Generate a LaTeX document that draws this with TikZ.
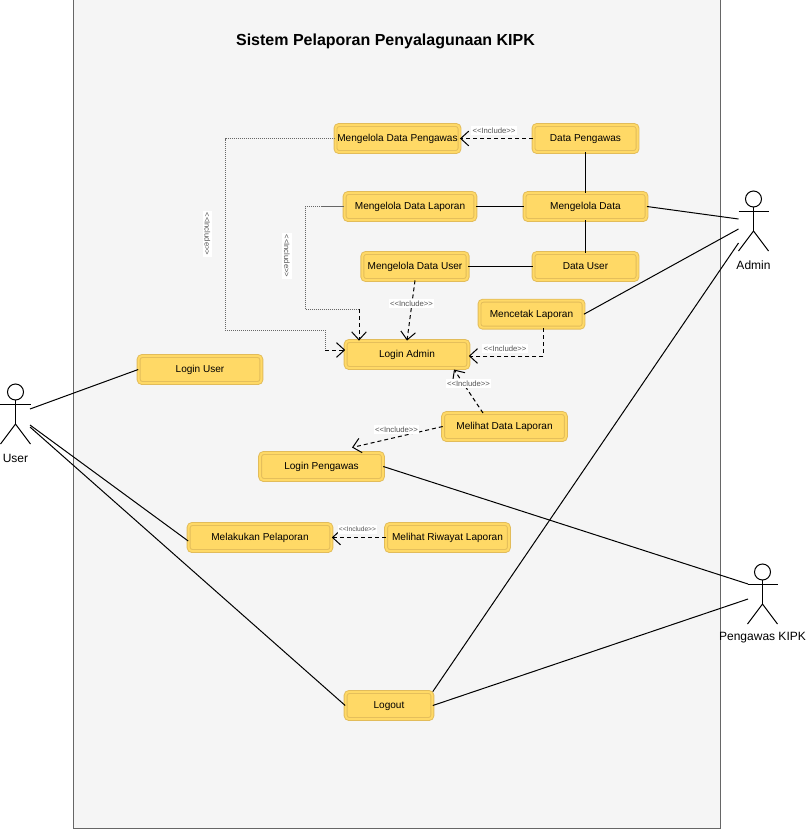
\documentclass[tikz,border=0pt]{standalone}
\usepackage{fontspec}
\setmainfont{Liberation Sans}
\usetikzlibrary{arrows.meta}
\definecolor{sysfill}{HTML}{F5F5F5}
\definecolor{sysline}{HTML}{666666}
\definecolor{casefill}{HTML}{FFD966}
\definecolor{caseline}{HTML}{E2BC5A}
\definecolor{inclab}{HTML}{555555}
\newcommand{\inctext}{<{}<Include>{}>}
\tikzset{
    usecase/.style={draw=caseline,fill=casefill,double=casefill,double distance=1.5pt,line width=0.7pt,
        rounded corners=2.5pt,minimum height=20.2pt,inner sep=0pt,text height=6.5pt,text depth=1.3pt,
        font=\fontsize{7.55}{9}\selectfont},
    assoc/.style={line width=0.75pt},
    incl/.style={line width=0.75pt,dash pattern=on 3pt off 2.25pt,-{Straight Barb[length=6pt,width=11pt,line width=0.75pt]}},
    dotline/.style={line width=0.75pt,sysline,dash pattern=on 0.75pt off 0.75pt},
    inclabel/.style={fill=white,text=inclab,inner xsep=0.8pt,inner ysep=1.4pt,font=\fontsize{5.8}{6}\selectfont},
    stick/.style={line width=0.75pt},
    actorlabel/.style={font=\fontsize{9}{11}\selectfont},
}
\begin{document}
\begin{tikzpicture}[x=0.75pt,y=-0.75pt]
    \useasboundingbox (0,0) rectangle (807,829);
    \draw[sysline,fill=sysfill,line width=0.75pt] (73.5,-1) rectangle (720.5,828);
    \node[font=\bfseries\fontsize{12}{14}\selectfont] (title) at (385.5,41) {Sistem Pelaporan Penyalagunaan KIPK};

    % use cases
    \node[usecase,minimum width=93pt] (mgPengawas) at (397.5,138.5) {Mengelola Data Pengawas};
    \node[usecase,minimum width=78pt] (dataPengawas) at (585.5,138.5) {Data Pengawas};
    \node[usecase,minimum width=98pt] (mgLaporan) at (410,206.5) {Mengelola Data Laporan};
    \node[usecase,minimum width=91.5pt] (mgData) at (585.5,206.5) {Mengelola Data};
    \node[usecase,minimum width=79pt] (mgUser) at (415,266.5) {Mengelola Data User};
    \node[usecase,minimum width=78pt] (dataUser) at (585.5,266.5) {Data User};
    \node[usecase,minimum width=78pt] (cetak) at (531.5,314.2) {Mencetak Laporan};
    \node[usecase,minimum width=92pt] (loginAdmin) at (407,354.5) {Login Admin};
    \node[usecase,minimum width=92pt] (loginUser) at (200,369.5) {Login User};
    \node[usecase,minimum width=92pt] (lihatLaporan) at (504.5,426.5) {Melihat Data Laporan};
    \node[usecase,minimum width=92pt] (loginPengawas) at (321.5,466.5) {Login Pengawas};
    \node[usecase,minimum width=107pt] (pelaporan) at (260,537.5) {Melakukan Pelaporan};
    \node[usecase,minimum width=92pt] (riwayat) at (447.5,537.5) {Melihat Riwayat Laporan};
    \node[usecase,minimum width=65pt] (logout) at (389,705.5) {Logout};

    % actors
    \foreach \nm/\xx/\yy/\lab in {user/15.5/392/User,admin/753.5/199/Admin,pengawas/762.5/572/Pengawas KIPK}{
        \draw[stick] (\xx,\yy) circle (8);
        \draw[stick] (\xx,\yy+8) -- (\xx,\yy+32) (\xx-15,\yy+12.5) -- (\xx+15,\yy+12.5);
        \draw[stick] (\xx-15,\yy+52) -- (\xx,\yy+32) -- (\xx+15,\yy+52);
        \node[actorlabel] (\nm Label) at (\xx,\yy+66) {\lab};
    }
    \coordinate (userA) at (30,409);
    \coordinate (userB) at (30,425);
    \coordinate (userC) at (30,427);
    \coordinate (adminA) at (738.5,219);
    \coordinate (adminB) at (738.5,229);
    \coordinate (adminC) at (738.5,243);
    \coordinate (pengawasA) at (748,584);
    \coordinate (pengawasB) at (748,599);

    % associations
    \draw[assoc] (userA) -- (loginUser.west);
    \draw[assoc] (userB) -- (pelaporan.west |- 0,541);
    \draw[assoc] (userC) -- (logout.west);
    \draw[assoc] (mgData.east) -- (adminA);
    \draw[assoc] (cetak.east) -- (adminB);
    \draw[assoc] (logout.north east) -- (adminC);
    \draw[assoc] (loginPengawas.east) -- (pengawasA);
    \draw[assoc] (logout.east) -- (pengawasB);
    \draw[assoc] (mgData.north) -- (dataPengawas.south);
    \draw[assoc] (mgData.south) -- (dataUser.north);
    \draw[assoc] (mgLaporan.east) -- (mgData.west);
    \draw[assoc] (mgUser.east) -- (dataUser.west);

    % include links
    \coordinate (bendA) at (325,350);
    \coordinate (bendB) at (359,309);
    \coordinate (bendC) at (543.5,356);
    \draw[dotline] (mgPengawas.west) -- (225,138.5) -- (225,330) -- (325,330) -- (bendA);
    \draw[incl] (bendA) -- (loginAdmin.west |- bendA);
    \draw[sysline,line width=0.75pt] (mgLaporan.west) -- (322,206.5);
    \draw[dotline] (322,206.5) -- (305,206.5) -- (305,309) -- (bendB);
    \draw[incl] (bendB) -- (loginAdmin.north -| bendB);
    \draw[incl] (mgUser.south) -- (loginAdmin.north);
    \draw[incl] (cetak.south -| bendC) -- (bendC) -- (loginAdmin.east |- bendC);
    \draw[incl] (dataPengawas.west) -- (mgPengawas.east);
    \draw[incl] (riwayat.west) -- (pelaporan.east);
    \coordinate (lihatTop) at (483,413);
    \coordinate (adminBottom) at (454,369.5);
    \coordinate (pengawasTop) at (352,447.5);
    \draw[incl] (lihatTop) -- (adminBottom);
    \draw[incl] (lihatLaporan.west) -- (pengawasTop);

    % include labels
    \node[inclabel,rotate=-90] (labA) at (207.5,234) {\inctext};
    \node[inclabel,rotate=-90] (labB) at (287,256) {\inctext};
    \node[inclabel] (labC) at (494,130.5) {\inctext};
    \node[inclabel] (labD) at (411.5,303.5) {\inctext};
    \node[inclabel] (labE) at (505,348.5) {\inctext};
    \node[inclabel] (labF) at (468.5,383.5) {\inctext};
    \node[inclabel] (labG) at (396.5,429.5) {\inctext};
    \node[inclabel,font=\fontsize{5}{6}\selectfont] (labH) at (357.5,529.5) {\inctext};
\end{tikzpicture}
\end{document}
